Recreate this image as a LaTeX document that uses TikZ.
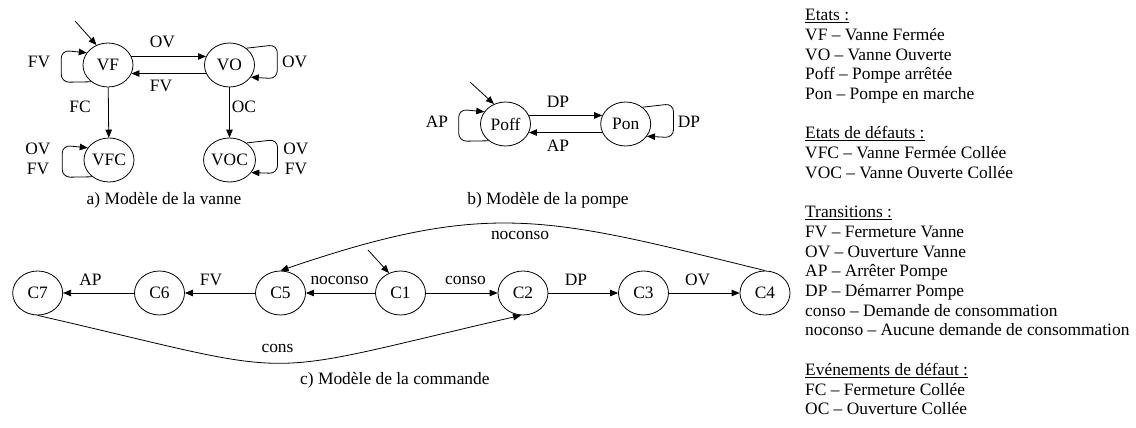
\documentclass[tikz,border=0pt]{standalone}
\usepackage{fontspec}
\setmainfont{Liberation Serif}
\usetikzlibrary{arrows.meta,shapes.geometric}
\begin{document}
\begin{tikzpicture}[x=1pt,y=-1pt,
  every node/.style={font=\fontsize{17.4}{19.7}\selectfont},
  st/.style={draw,ellipse,minimum width=50pt,minimum height=44pt,inner sep=0pt,line width=0.8pt},
  arr/.style={line width=0.8pt,-{Triangle[length=8pt,width=6.5pt]}},
  lg/.style={anchor=base west,inner sep=0pt},
  loopL/.style={arr,rounded corners=8pt},
  loopR/.style={arr,rounded corners=8pt}]
\useasboundingbox (0,0) rectangle (1136,428);

% ---------- a) valve ----------
\node[st] (VF)  at (108,65)   {VF};
\node[st] (VO)  at (229.5,65) {VO};
\node[st] (VFC) at (109,160)  {VFC};
\node[st] (VOC) at (229.5,160){VOC};
\coordinate (iVF) at (75,21);
\draw[arr] (iVF) -- (VF.120);
\draw[arr] (VF.20) -- (VO.160);
\draw[arr] (VO.200) -- (VF.340);
\draw[arr] (VF) -- (VFC);
\draw[arr] (VO) -- (VOC);
\draw[loopL] (VF.225) -- ++(-30,0.5) -- ++(0,-32) -- (VF.150);
\draw[loopR] (VO.45) -- ++(31,-3.5) -- ++(0,34) -- (VO.-30);
\draw[loopL] (VFC.225) -- ++(-30,0.5) -- ++(0,-32) -- (VFC.150);
\draw[loopR] (VOC.45) -- ++(31,-3.5) -- ++(0,34) -- (VOC.-30);
\node (aOV)  at (162.5,41.7) {OV};
\node (aFV)  at (161,86)     {FV};
\node (aFVl) at (39,61.7)    {FV};
\node (aFC)  at (80,107)     {FC};
\node (aOC)  at (244,107)    {OC};
\node (aOVr) at (294.7,62)   {OV};
\node (aOV2) at (38,149)     {OV};
\node (aFV2) at (38,169)     {FV};
\node (aOV3) at (296,149)    {OV};
\node (aFV3) at (296,169)    {FV};
\node (capA) at (164,200)    {a) Modèle de la vanne};

% ---------- b) pump ----------
\node[st] (Poff) at (505.5,124) {Poff};
\node[st] (Pon)  at (625.7,124) {Pon};
\coordinate (iPoff) at (470,82);
\draw[arr] (iPoff) -- (Poff.120);
\draw[arr] (Poff.20) -- (Pon.160);
\draw[arr] (Pon.200) -- (Poff.340);
\draw[loopL] (Poff.225) -- ++(-30,0.5) -- ++(0,-32) -- (Poff.150);
\draw[loopR] (Pon.45) -- ++(31,-3.5) -- ++(0,34) -- (Pon.-30);
\node (bDP)  at (558,101.7) {DP};
\node (bAP)  at (558,146)   {AP};
\node (bAPl) at (437,121.7) {AP};
\node (bDPr) at (689,121.7) {DP};
\node (capB) at (548,200)   {b) Modèle de la pompe};

% ---------- c) command ----------
\node[st] (C7) at (37.7,293)  {C7};
\node[st] (C6) at (159.5,293) {C6};
\node[st] (C5) at (280.5,293) {C5};
\node[st] (C1) at (400.5,293) {C1};
\node[st] (C2) at (523,293)   {C2};
\node[st] (C3) at (643.5,293) {C3};
\node[st] (C4) at (765,293)   {C4};
\coordinate (iC1) at (368,250);
\draw[arr] (iC1) -- (C1.120);
\draw[arr] (C6) -- (C7);
\draw[arr] (C5) -- (C6);
\draw[arr] (C1) -- (C5);
\draw[arr] (C1) -- (C2);
\draw[arr] (C2) -- (C3);
\draw[arr] (C3) -- (C4);
\draw[arr] (C4.north) .. controls (547,217) and (490,199) .. (C5.north);
\draw[arr] (C7.south) .. controls (314,379) and (244,379) .. (C2.-95);
\node (cAP)  at (90.5,280)  {AP};
\node (cFV)  at (211,280)   {FV};
\node (cNo)  at (339.5,280) {noconso};
\node (cCo)  at (465.5,280) {conso};
\node (cDP)  at (576,280)   {DP};
\node (cOV)  at (697.7,280) {OV};
\node (cNo2) at (520,235)   {noconso};
\node (cCons) at (277.5,348) {cons};
\node[anchor=west,inner sep=0pt] (capC) at (300,380) {c) Modèle de la commande};

% ---------- legend ----------
\node[lg] (g0)  at (805,20.7)  {\underline{Etats :}};
\node[lg] (g1)  at (805,40.4)  {VF -- Vanne Fermée};
\node[lg] (g2)  at (805,60.1)  {VO -- Vanne Ouverte};
\node[lg] (g3)  at (805,79.8)  {Poff -- Pompe arrêtée};
\node[lg] (g4)  at (805,99.5)  {Pon -- Pompe en marche};
\node[lg] (g6)  at (805,138.9) {\underline{Etats de défauts :}};
\node[lg] (g7)  at (805,158.6) {VFC -- Vanne Fermée Collée};
\node[lg] (g8)  at (805,178.3) {VOC -- Vanne Ouverte Collée};
\node[lg] (g10) at (805,217.7) {\underline{Transitions :}};
\node[lg] (g11) at (805,237.4) {FV -- Fermeture Vanne};
\node[lg] (g12) at (805,257.1) {OV -- Ouverture Vanne};
\node[lg] (g13) at (805,276.8) {AP -- Arrêter Pompe};
\node[lg] (g14) at (805,296.5) {DP -- Démarrer Pompe};
\node[lg] (g15) at (805,316.2) {conso -- Demande de consommation};
\node[lg] (g16) at (805,335.9) {noconso -- Aucune demande de consommation};
\node[lg] (g18) at (805,375.3) {\underline{Evénements de défaut :}};
\node[lg] (g19) at (805,395.0) {FC -- Fermeture Collée};
\node[lg] (g20) at (805,414.7) {OC -- Ouverture Collée};
\end{tikzpicture}
\end{document}
